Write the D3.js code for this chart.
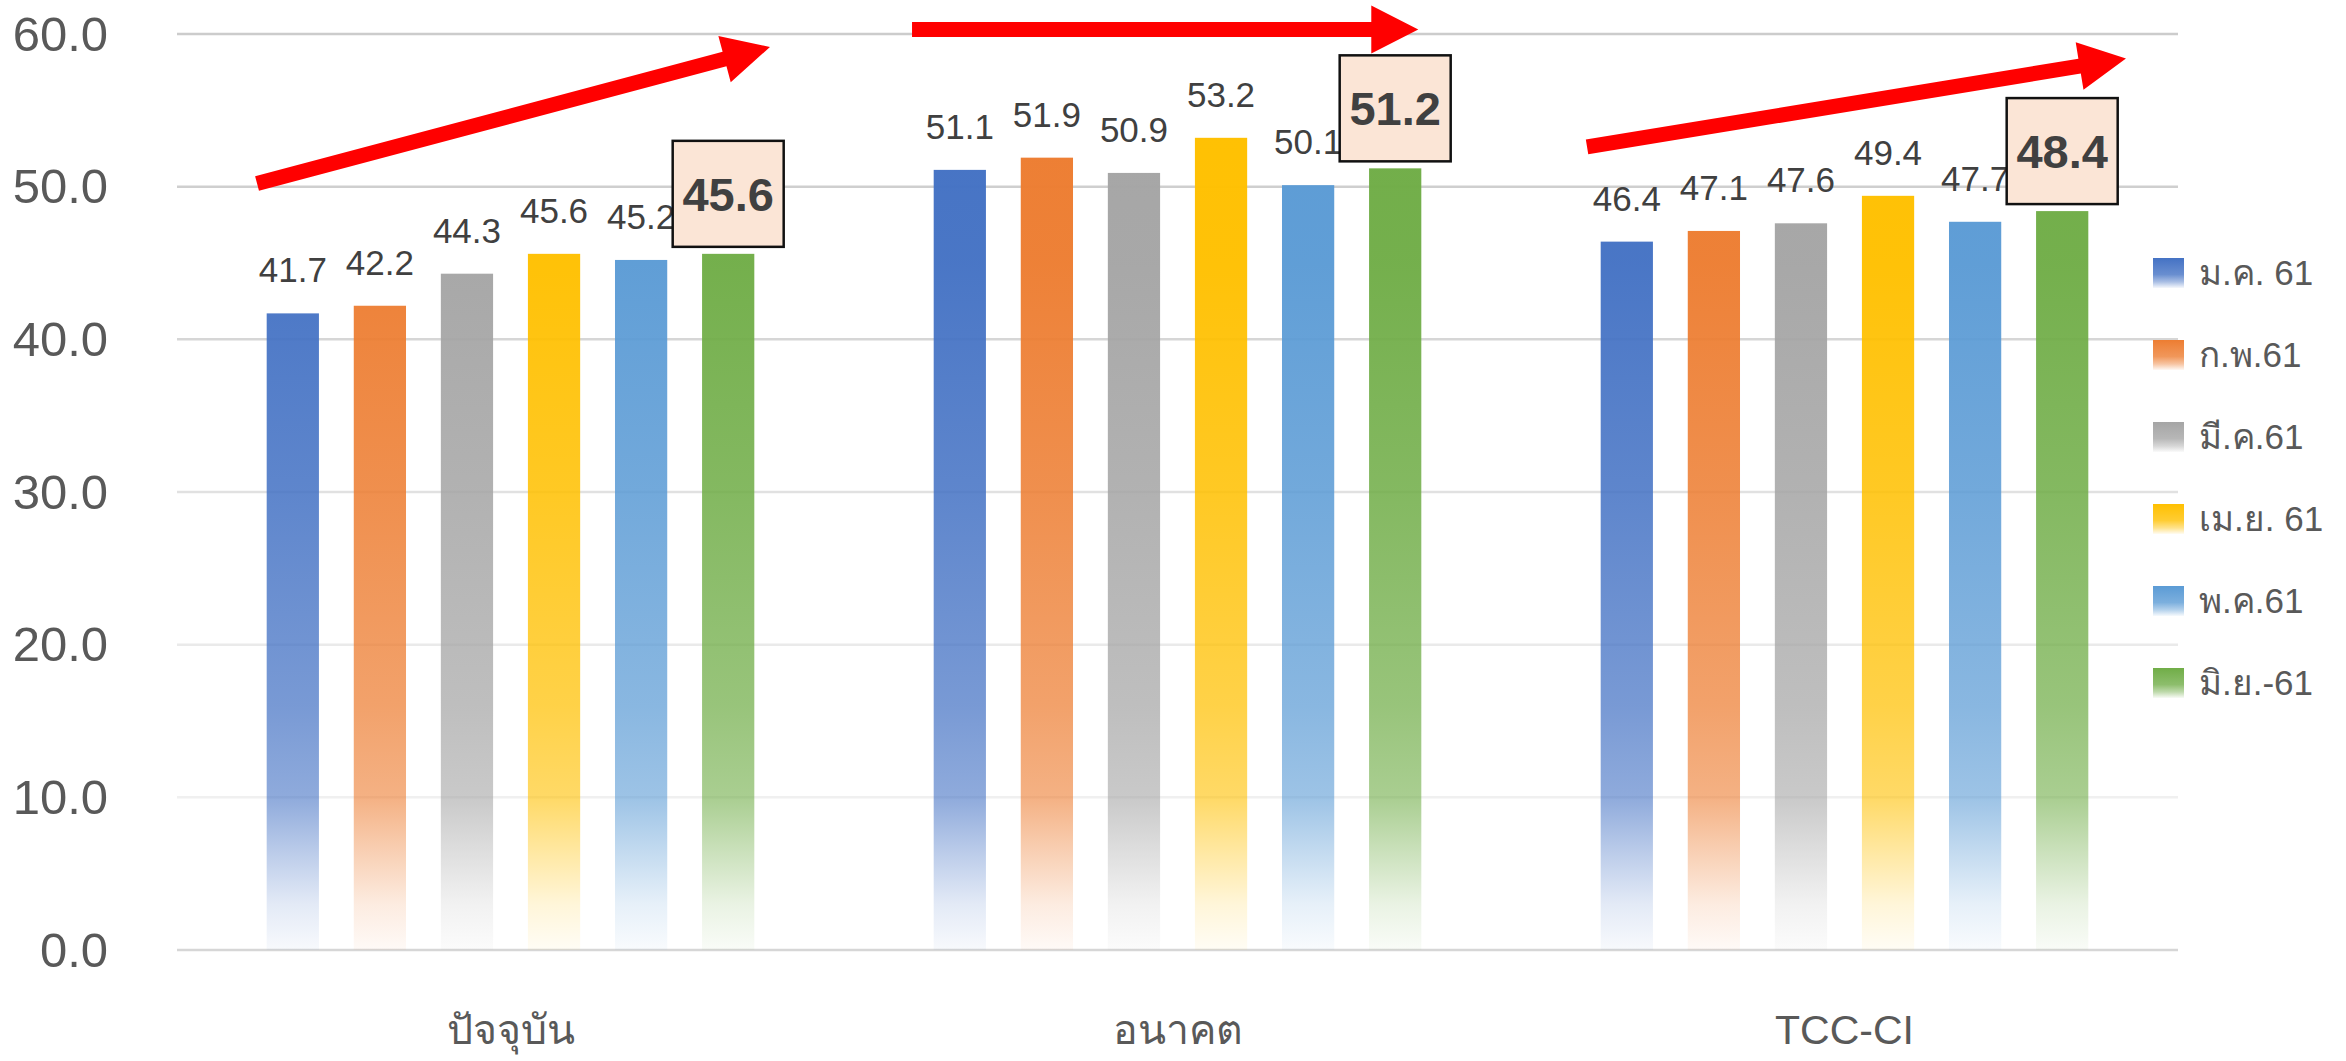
<!DOCTYPE html>
<html>
<head>
<meta charset="utf-8">
<script src="https://cdn.jsdelivr.net/npm/d3@7"></script>
<style>
html,body{margin:0;padding:0;background:#fff;}
svg{display:block;}
text{font-family:"Liberation Sans",Arial,"Noto Sans","DejaVu Sans",sans-serif;}
</style>
</head>
<body>
<svg id="chart" width="2346" height="1061"></svg>
<script>
// ---- data ----
const categories = ["ปัจจุบัน", "อนาคต", "TCC-CI"];
const seriesNames = ["ม.ค. 61", "ก.พ.61", "มี.ค.61", "เม.ย. 61", "พ.ค.61", "มิ.ย.-61"];
const seriesColors = ["#4472C4", "#ED7D31", "#A5A5A5", "#FFC000", "#5B9BD5", "#70AD47"];
const valuesJan = [41.7, 51.1, 46.4];
const valuesFeb = [42.2, 51.9, 47.1];
const valuesMar = [44.3, 50.9, 47.6];
const valuesApr = [45.6, 53.2, 49.4];
const valuesMay = [45.2, 50.1, 47.7];
const valuesJun = [45.6, 51.2, 48.4];
const seriesValues = [valuesJan, valuesFeb, valuesMar, valuesApr, valuesMay, valuesJun];
const yTicks = [0, 10, 20, 30, 40, 50, 60];
const highlightSeries = 5; // boxed labels
// trend arrows: [category index, fraction across band, value]
const arrowTails = [[0, 0.12, 50.2], [1, 0.102, 60.3], [2, 0.114, 52.6]];
const arrowTips  = [[0, 0.889, 59.15], [1, 0.861, 60.3], [2, 0.922, 58.4]];

// ---- layout ----
const svg = d3.select("#chart");
const plotLeft = 177, plotRight = 2178, plotTop = 34, plotBottom = 950;

const x0 = d3.scaleBand().domain(categories).range([plotLeft, plotRight]).padding(0);
const x1 = d3.scaleBand().domain(seriesNames).range([0, x0.bandwidth()])
  .paddingInner(0.4).paddingOuter(1.03);
const y = d3.scaleLinear().domain([0, 60]).range([plotBottom, plotTop]);

// gradients
const defs = svg.append("defs");
const fadeStops = [[0, 0.04], [3, 0.15], [6.5, 0.37], [10, 0.6], [16, 0.72], [30, 0.86], [45, 0.97], [60, 1]];
seriesColors.forEach((c, i) => {
  const g = defs.append("linearGradient").attr("id", "bar" + i)
    .attr("gradientUnits", "userSpaceOnUse")
    .attr("x1", 0).attr("x2", 0).attr("y1", y(0)).attr("y2", y(60));
  fadeStops.forEach(s => g.append("stop").attr("offset", s[0] / 60)
    .attr("stop-color", c).attr("stop-opacity", s[1]));
  const lg = defs.append("linearGradient").attr("id", "leg" + i)
    .attr("x1", 0).attr("x2", 0).attr("y1", 0).attr("y2", 1);
  [[0, 1], [0.55, 0.8], [0.8, 0.45], [1, 0.05]].forEach(s =>
    lg.append("stop").attr("offset", s[0]).attr("stop-color", c).attr("stop-opacity", s[1]));
});

// gridlines (fade lighter downward)
const gridColors = {60: "#CCCCCC", 50: "#CFCFCF", 40: "#D6D6D6", 30: "#E1E1E1", 20: "#EAEAEA", 10: "#F0F0F0", 0: "#D6D6D6"};
svg.append("g").selectAll("line").data(yTicks).join("line")
  .attr("x1", plotLeft).attr("x2", plotRight)
  .attr("y1", d => y(d)).attr("y2", d => y(d))
  .attr("stroke", d => gridColors[d]).attr("stroke-width", 2.5);

// y axis labels
const yAxis = d3.axisLeft(y).tickValues(yTicks).tickFormat(d3.format(".1f")).tickSize(0).tickPadding(0);
const ya = svg.append("g").attr("transform", `translate(108,0)`).call(yAxis);
ya.select(".domain").remove();
ya.selectAll("text").attr("fill", "#595959").style("font-size", "49px")
  .attr("font-family", "'Liberation Sans',Arial,sans-serif").attr("dy", "0.33em");

// x axis labels
const xAxis = d3.axisBottom(x0).tickSize(0).tickPadding(0);
const xa = svg.append("g").attr("transform", `translate(0,1044)`).call(xAxis);
xa.select(".domain").remove();
xa.selectAll("text").attr("fill", "#595959").style("font-size", "41px")
  .attr("font-family", "'Liberation Sans',Arial,sans-serif").attr("dy", 0);

// bars
const groups = svg.append("g").selectAll("g").data(categories).join("g")
  .attr("transform", d => `translate(${x0(d)},0)`);
groups.selectAll("rect").data((d, ci) => seriesNames.map((s, si) => ({s, si, v: seriesValues[si][ci]})))
  .join("rect")
  .attr("x", d => x1(d.s)).attr("width", x1.bandwidth())
  .attr("y", d => y(d.v)).attr("height", d => y(0) - y(d.v))
  .attr("fill", d => `url(#bar${d.si})`);

// plain data labels
groups.selectAll("text.lab").data((d, ci) => seriesNames.map((s, si) => ({s, si, v: seriesValues[si][ci]})).filter(d => d.si !== highlightSeries))
  .join("text").attr("class", "lab")
  .attr("x", d => x1(d.s) + x1.bandwidth() / 2)
  .attr("y", d => y(d.v) - 31)
  .attr("text-anchor", "middle").attr("fill", "#404040").style("font-size", "35px")
  .text(d => d3.format(".1f")(d.v));

// highlighted boxed labels
const hl = groups.append("g").datum((d, ci) => ({s: seriesNames[highlightSeries], v: seriesValues[highlightSeries][ci]}));
const boxW = 111, boxH = 106;
hl.append("rect")
  .attr("x", d => x1(d.s) + x1.bandwidth() / 2 - boxW / 2)
  .attr("y", d => y(d.v) - 7 - boxH)
  .attr("width", boxW).attr("height", boxH)
  .attr("fill", "#FBE5D6").attr("stroke", "#111").attr("stroke-width", 2.5);
hl.append("text")
  .attr("x", d => x1(d.s) + x1.bandwidth() / 2)
  .attr("y", d => y(d.v) - 7 - boxH / 2)
  .attr("dy", "0.36em")
  .attr("text-anchor", "middle").attr("fill", "#404040")
  .style("font-size", "47px").style("font-weight", "bold")
  .text(d => d3.format(".1f")(d.v));

// arrows
function pt(a) { return [x0(categories[a[0]]) + a[1] * x0.bandwidth(), y(a[2])]; }
const arrowData = arrowTails.map((t, i) => [pt(t), pt(arrowTips[i])]);
const shaftHalf = 7.5, headLen = 47, headHalf = 24;
svg.append("g").selectAll("path").data(arrowData).join("path")
  .attr("fill", "#FF0000")
  .attr("d", ([a, b]) => {
    const dx = b[0] - a[0], dy = b[1] - a[1], L = Math.hypot(dx, dy);
    const ux = dx / L, uy = dy / L, nx = -uy, ny = ux;
    const bx = b[0] - ux * headLen, by = b[1] - uy * headLen;
    const p = [
      [a[0] + nx * shaftHalf, a[1] + ny * shaftHalf],
      [bx + nx * shaftHalf, by + ny * shaftHalf],
      [bx + nx * headHalf, by + ny * headHalf],
      [b[0], b[1]],
      [bx - nx * headHalf, by - ny * headHalf],
      [bx - nx * shaftHalf, by - ny * shaftHalf],
      [a[0] - nx * shaftHalf, a[1] - ny * shaftHalf]
    ];
    return "M" + p.map(q => q.join(",")).join("L") + "Z";
  });

// legend
const legend = svg.append("g").selectAll("g").data(seriesNames).join("g")
  .attr("transform", (d, i) => `translate(2153,${273 + i * 82})`);
legend.append("rect").attr("x", 0).attr("y", -15).attr("width", 31).attr("height", 30)
  .attr("fill", (d, i) => `url(#leg${i})`);
legend.append("text").attr("x", 46).attr("y", 12)
  .attr("fill", "#595959").style("font-size", "35px").text(d => d);
</script>
</body>
</html>
